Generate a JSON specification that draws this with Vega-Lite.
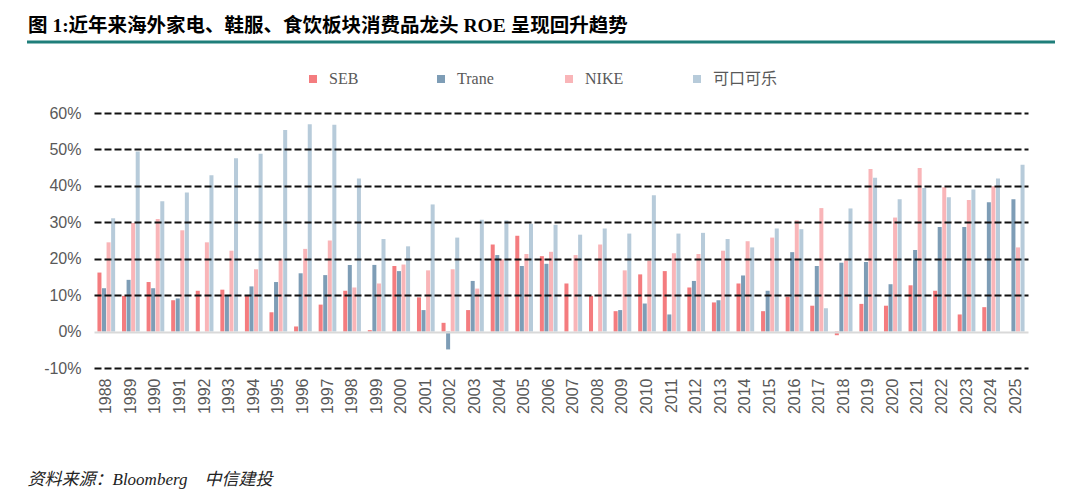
{
  "$schema": "https://vega.github.io/schema/vega-lite/v6.json",
  "width": 934,
  "height": 255,
  "autosize": "none",
  "padding": {"left": 94, "top": 113, "right": 52, "bottom": 133},
  "background": "white",
  "title": {
    "text": "图 1:近年来海外家电、鞋服、食饮板块消费品龙头 ROE 呈现回升趋势",
    "anchor": "start",
    "frame": "group",
    "dx": -66,
    "offset": 4,
    "font": "Liberation Serif, Noto Sans CJK SC",
    "fontSize": 19.5,
    "fontWeight": "bold",
    "color": "#000000"
  },
  "config": {
    "view": {"stroke": null},
    "font": "Liberation Sans"
  },
  "datasets": {
    "roe": [
      {"year": "1988", "series": "SEB", "value": 16.2}, {"year": "1988", "series": "Trane", "value": 11.9}, {"year": "1988", "series": "NIKE", "value": 24.5}, {"year": "1988", "series": "可口可乐", "value": 31.1},
      {"year": "1989", "series": "SEB", "value": 9.8}, {"year": "1989", "series": "Trane", "value": 14.2}, {"year": "1989", "series": "NIKE", "value": 29.8}, {"year": "1989", "series": "可口可乐", "value": 49.4},
      {"year": "1990", "series": "SEB", "value": 13.6}, {"year": "1990", "series": "Trane", "value": 11.9}, {"year": "1990", "series": "NIKE", "value": 30.9}, {"year": "1990", "series": "可口可乐", "value": 35.8},
      {"year": "1991", "series": "SEB", "value": 8.6}, {"year": "1991", "series": "Trane", "value": 9.1}, {"year": "1991", "series": "NIKE", "value": 27.8}, {"year": "1991", "series": "可口可乐", "value": 38.2},
      {"year": "1992", "series": "SEB", "value": 11.2}, {"year": "1992", "series": "NIKE", "value": 24.5}, {"year": "1992", "series": "可口可乐", "value": 42.9},
      {"year": "1993", "series": "SEB", "value": 11.5}, {"year": "1993", "series": "Trane", "value": 9.8}, {"year": "1993", "series": "NIKE", "value": 22.2}, {"year": "1993", "series": "可口可乐", "value": 47.6},
      {"year": "1994", "series": "SEB", "value": 9.8}, {"year": "1994", "series": "Trane", "value": 12.4}, {"year": "1994", "series": "NIKE", "value": 17.1}, {"year": "1994", "series": "可口可乐", "value": 48.8},
      {"year": "1995", "series": "SEB", "value": 5.3}, {"year": "1995", "series": "Trane", "value": 13.6}, {"year": "1995", "series": "NIKE", "value": 20.0}, {"year": "1995", "series": "可口可乐", "value": 55.3},
      {"year": "1996", "series": "SEB", "value": 1.4}, {"year": "1996", "series": "Trane", "value": 16.0}, {"year": "1996", "series": "NIKE", "value": 22.7}, {"year": "1996", "series": "可口可乐", "value": 56.9},
      {"year": "1997", "series": "SEB", "value": 7.4}, {"year": "1997", "series": "Trane", "value": 15.5}, {"year": "1997", "series": "NIKE", "value": 25.0}, {"year": "1997", "series": "可口可乐", "value": 56.8},
      {"year": "1998", "series": "SEB", "value": 11.2}, {"year": "1998", "series": "Trane", "value": 18.3}, {"year": "1998", "series": "NIKE", "value": 12.1}, {"year": "1998", "series": "可口可乐", "value": 42.0},
      {"year": "1999", "series": "SEB", "value": 0.4}, {"year": "1999", "series": "Trane", "value": 18.3}, {"year": "1999", "series": "NIKE", "value": 13.2}, {"year": "1999", "series": "可口可乐", "value": 25.4},
      {"year": "2000", "series": "SEB", "value": 18.0}, {"year": "2000", "series": "Trane", "value": 16.6}, {"year": "2000", "series": "NIKE", "value": 18.4}, {"year": "2000", "series": "可口可乐", "value": 23.4},
      {"year": "2001", "series": "SEB", "value": 9.4}, {"year": "2001", "series": "Trane", "value": 5.9}, {"year": "2001", "series": "NIKE", "value": 16.8}, {"year": "2001", "series": "可口可乐", "value": 34.9},
      {"year": "2002", "series": "SEB", "value": 2.4}, {"year": "2002", "series": "Trane", "value": -4.9}, {"year": "2002", "series": "NIKE", "value": 17.1}, {"year": "2002", "series": "可口可乐", "value": 25.8},
      {"year": "2003", "series": "SEB", "value": 5.9}, {"year": "2003", "series": "Trane", "value": 13.9}, {"year": "2003", "series": "NIKE", "value": 11.8}, {"year": "2003", "series": "可口可乐", "value": 30.7},
      {"year": "2004", "series": "SEB", "value": 23.9}, {"year": "2004", "series": "Trane", "value": 21.0}, {"year": "2004", "series": "NIKE", "value": 19.8}, {"year": "2004", "series": "可口可乐", "value": 30.5},
      {"year": "2005", "series": "SEB", "value": 26.3}, {"year": "2005", "series": "Trane", "value": 18.0}, {"year": "2005", "series": "NIKE", "value": 21.3}, {"year": "2005", "series": "可口可乐", "value": 29.6},
      {"year": "2006", "series": "SEB", "value": 20.7}, {"year": "2006", "series": "Trane", "value": 18.6}, {"year": "2006", "series": "NIKE", "value": 21.9}, {"year": "2006", "series": "可口可乐", "value": 29.3},
      {"year": "2007", "series": "SEB", "value": 13.2}, {"year": "2007", "series": "NIKE", "value": 21.0}, {"year": "2007", "series": "可口可乐", "value": 26.6},
      {"year": "2008", "series": "SEB", "value": 9.8}, {"year": "2008", "series": "NIKE", "value": 23.9}, {"year": "2008", "series": "可口可乐", "value": 28.3},
      {"year": "2009", "series": "SEB", "value": 5.6}, {"year": "2009", "series": "Trane", "value": 5.9}, {"year": "2009", "series": "NIKE", "value": 16.8}, {"year": "2009", "series": "可口可乐", "value": 26.9},
      {"year": "2010", "series": "SEB", "value": 15.7}, {"year": "2010", "series": "Trane", "value": 7.7}, {"year": "2010", "series": "NIKE", "value": 19.5}, {"year": "2010", "series": "可口可乐", "value": 37.4},
      {"year": "2011", "series": "SEB", "value": 16.6}, {"year": "2011", "series": "Trane", "value": 4.7}, {"year": "2011", "series": "NIKE", "value": 21.5}, {"year": "2011", "series": "可口可乐", "value": 26.9},
      {"year": "2012", "series": "SEB", "value": 12.1}, {"year": "2012", "series": "Trane", "value": 13.9}, {"year": "2012", "series": "NIKE", "value": 21.3}, {"year": "2012", "series": "可口可乐", "value": 27.1},
      {"year": "2013", "series": "SEB", "value": 8.0}, {"year": "2013", "series": "Trane", "value": 8.6}, {"year": "2013", "series": "NIKE", "value": 22.2}, {"year": "2013", "series": "可口可乐", "value": 25.4},
      {"year": "2014", "series": "SEB", "value": 13.2}, {"year": "2014", "series": "Trane", "value": 15.4}, {"year": "2014", "series": "NIKE", "value": 24.8}, {"year": "2014", "series": "可口可乐", "value": 23.1},
      {"year": "2015", "series": "SEB", "value": 5.6}, {"year": "2015", "series": "Trane", "value": 11.2}, {"year": "2015", "series": "NIKE", "value": 25.8}, {"year": "2015", "series": "可口可乐", "value": 28.3},
      {"year": "2016", "series": "SEB", "value": 9.6}, {"year": "2016", "series": "Trane", "value": 21.8}, {"year": "2016", "series": "NIKE", "value": 30.5}, {"year": "2016", "series": "可口可乐", "value": 28.1},
      {"year": "2017", "series": "SEB", "value": 7.1}, {"year": "2017", "series": "Trane", "value": 18.0}, {"year": "2017", "series": "NIKE", "value": 33.9}, {"year": "2017", "series": "可口可乐", "value": 6.4},
      {"year": "2018", "series": "SEB", "value": -1.0}, {"year": "2018", "series": "Trane", "value": 18.9}, {"year": "2018", "series": "NIKE", "value": 19.5}, {"year": "2018", "series": "可口可乐", "value": 33.8},
      {"year": "2019", "series": "SEB", "value": 7.6}, {"year": "2019", "series": "Trane", "value": 19.1}, {"year": "2019", "series": "NIKE", "value": 44.6}, {"year": "2019", "series": "可口可乐", "value": 42.2},
      {"year": "2020", "series": "SEB", "value": 7.1}, {"year": "2020", "series": "Trane", "value": 13.0}, {"year": "2020", "series": "NIKE", "value": 31.3}, {"year": "2020", "series": "可口可乐", "value": 36.3},
      {"year": "2021", "series": "SEB", "value": 12.7}, {"year": "2021", "series": "Trane", "value": 22.4}, {"year": "2021", "series": "NIKE", "value": 44.9}, {"year": "2021", "series": "可口可乐", "value": 39.4},
      {"year": "2022", "series": "SEB", "value": 11.2}, {"year": "2022", "series": "Trane", "value": 28.7}, {"year": "2022", "series": "NIKE", "value": 39.6}, {"year": "2022", "series": "可口可乐", "value": 36.9},
      {"year": "2023", "series": "SEB", "value": 4.7}, {"year": "2023", "series": "Trane", "value": 28.7}, {"year": "2023", "series": "NIKE", "value": 36.1}, {"year": "2023", "series": "可口可乐", "value": 39.0},
      {"year": "2024", "series": "SEB", "value": 6.7}, {"year": "2024", "series": "Trane", "value": 35.5}, {"year": "2024", "series": "NIKE", "value": 39.9}, {"year": "2024", "series": "可口可乐", "value": 42.0},
      {"year": "2025", "series": "Trane", "value": 36.3}, {"year": "2025", "series": "NIKE", "value": 23.1}, {"year": "2025", "series": "可口可乐", "value": 45.8}
    ],
    "decor": [{"x0": 0, "x1": 1, "y": 79.5}]
  },
  "resolve": {"scale": {"x": "independent"}, "axis": {"x": "independent"}},
  "layer": [
    {
      "data": {"name": "roe"},
      "mark": {"type": "bar"},
      "encoding": {
        "x": {
          "field": "year",
          "type": "ordinal",
          "scale": {"paddingInner": 0.28, "paddingOuter": 0.14},
          "axis": {
            "title": "资料来源：Bloomberg　中信建投",
            "titleFont": "Liberation Serif, Noto Sans CJK SC",
            "titleFontStyle": "italic",
            "titleFontWeight": "normal",
            "titleFontSize": 17,
            "titleColor": "#222222",
            "titleAnchor": "start",
            "titleAlign": "left",
            "titleBaseline": "alphabetic",
            "titleX": -67,
            "titleY": 116,
            "labelAngle": -90,
            "labelAlign": "right",
            "labelBaseline": "middle",
            "labelPadding": 10,
            "labelFontSize": 16,
            "labelColor": "#595959",
            "domain": false,
            "ticks": false,
            "grid": false
          }
        },
        "xOffset": {
          "field": "series",
          "type": "nominal",
          "sort": ["SEB", "Trane", "NIKE", "可口可乐"],
          "scale": {"paddingInner": 0.12}
        },
        "y": {
          "field": "value",
          "type": "quantitative",
          "scale": {"domain": [-10, 60], "nice": false},
          "axis": {
            "title": null,
            "values": [-10, 0, 10, 20, 30, 40, 50, 60],
            "tickCount": 20,
            "labelExpr": "datum.value + '%'",
            "labelFontSize": 16,
            "labelColor": "#595959",
            "labelPadding": 13,
            "labelOverlap": false,
            "domain": false,
            "ticks": false,
            "grid": true,
            "zindex": 1,
            "gridWidth": 2,
            "gridColor": {"condition": {"test": "datum.value === 0", "value": "#d9d9d9"}, "value": "#111111"},
            "gridDash": {"condition": {"test": "datum.value === 0", "value": []}, "value": [7, 3]}
          }
        },
        "color": {
          "field": "series",
          "type": "nominal",
          "scale": {
            "domain": ["SEB", "Trane", "NIKE", "可口可乐"],
            "range": ["#F47C7F", "#7E9DB6", "#F9B5B8", "#B7CBDA"]
          },
          "legend": {
            "title": null,
            "orient": "none",
            "direction": "horizontal",
            "columns": 4,
            "gridAlign": "all",
            "columnPadding": 39,
            "legendX": 211,
            "legendY": -42,
            "symbolType": "square",
            "symbolSize": 64,
            "symbolStrokeWidth": 0,
            "labelFont": "Liberation Serif, Noto Sans CJK SC",
            "labelFontSize": 16,
            "labelColor": "#595959",
            "labelOffset": 8
          }
        }
      }
    },
    {
      "data": {"name": "decor"},
      "mark": {"type": "rule", "color": "#1F7E7A", "strokeWidth": 3, "clip": false},
      "encoding": {
        "x": {"field": "x0", "type": "quantitative", "scale": {"domain": [0, 1], "range": [-67, 961]}, "axis": null},
        "x2": {"field": "x1"},
        "y": {"field": "y", "type": "quantitative"}
      }
    }
  ]
}
